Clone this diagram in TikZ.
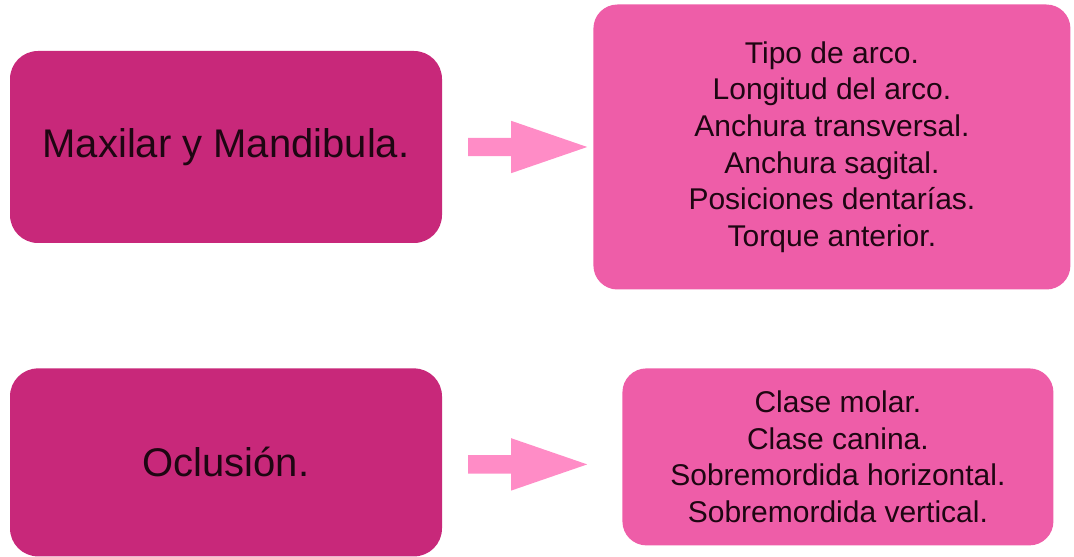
\documentclass[tikz,border=0pt]{standalone}
\usepackage{fontspec}
\setmainfont{Liberation Sans}
\usetikzlibrary{shapes.arrows,positioning}
\definecolor{deeppink}{HTML}{C8287A}
\definecolor{lightpink}{HTML}{EE5DA8}
\definecolor{arrowpink}{HTML}{FF8CC6}
\definecolor{inkdark}{HTML}{1E0612}
\tikzset{
	topic/.style={
		rectangle,
		rounded corners=28pt,
		fill=deeppink,
		text=inkdark,
		minimum width=432pt,
		inner sep=0pt,
		text centered,
		font=\fontsize{40}{48}\selectfont,
	},
	detail/.style={
		rectangle,
		rounded corners=24pt,
		fill=lightpink,
		text=inkdark,
		inner sep=0pt,
		align=center,
		font=\fontsize{30}{36.7}\selectfont,
	},
	pointer/.style={
		single arrow,
		fill=arrowpink,
		minimum height=119pt,
		inner xsep=0pt, inner ysep=9pt,
		single arrow head extend=17pt,
		single arrow tip angle=38,
		outer sep=0pt,
	},
}

\begin{document}
\begin{tikzpicture}
\useasboundingbox (0,0) rectangle (1074pt,557pt);
\node	(maxilar)	[topic, minimum height=192pt]	at (226pt,410pt)	{Maxilar y Mandibula.};
\node	(arrA)	[pointer]	[right=26pt of maxilar]	{};
\node	(arco)	[detail, minimum width=477pt, minimum height=285pt]	[right=6pt of arrA]
	{Tipo de arco.\\Longitud del arco.\\Anchura transversal.\\Anchura sagital.\\Posiciones dentarías.\\Torque anterior.};

\node	(oclusion)	[topic, minimum height=188pt]	[below=125pt of maxilar]	{Oclusión.};
\node	(arrB)	[pointer]	[right=26pt of oclusion, yshift=-2pt]	{};
\node	(clase)	[detail, minimum width=431pt, minimum height=177pt]	[right=35pt of arrB, yshift=7.5pt]
	{Clase molar.\\Clase canina.\\Sobremordida horizontal.\\Sobremordida vertical.};

\end{tikzpicture}
\end{document}
